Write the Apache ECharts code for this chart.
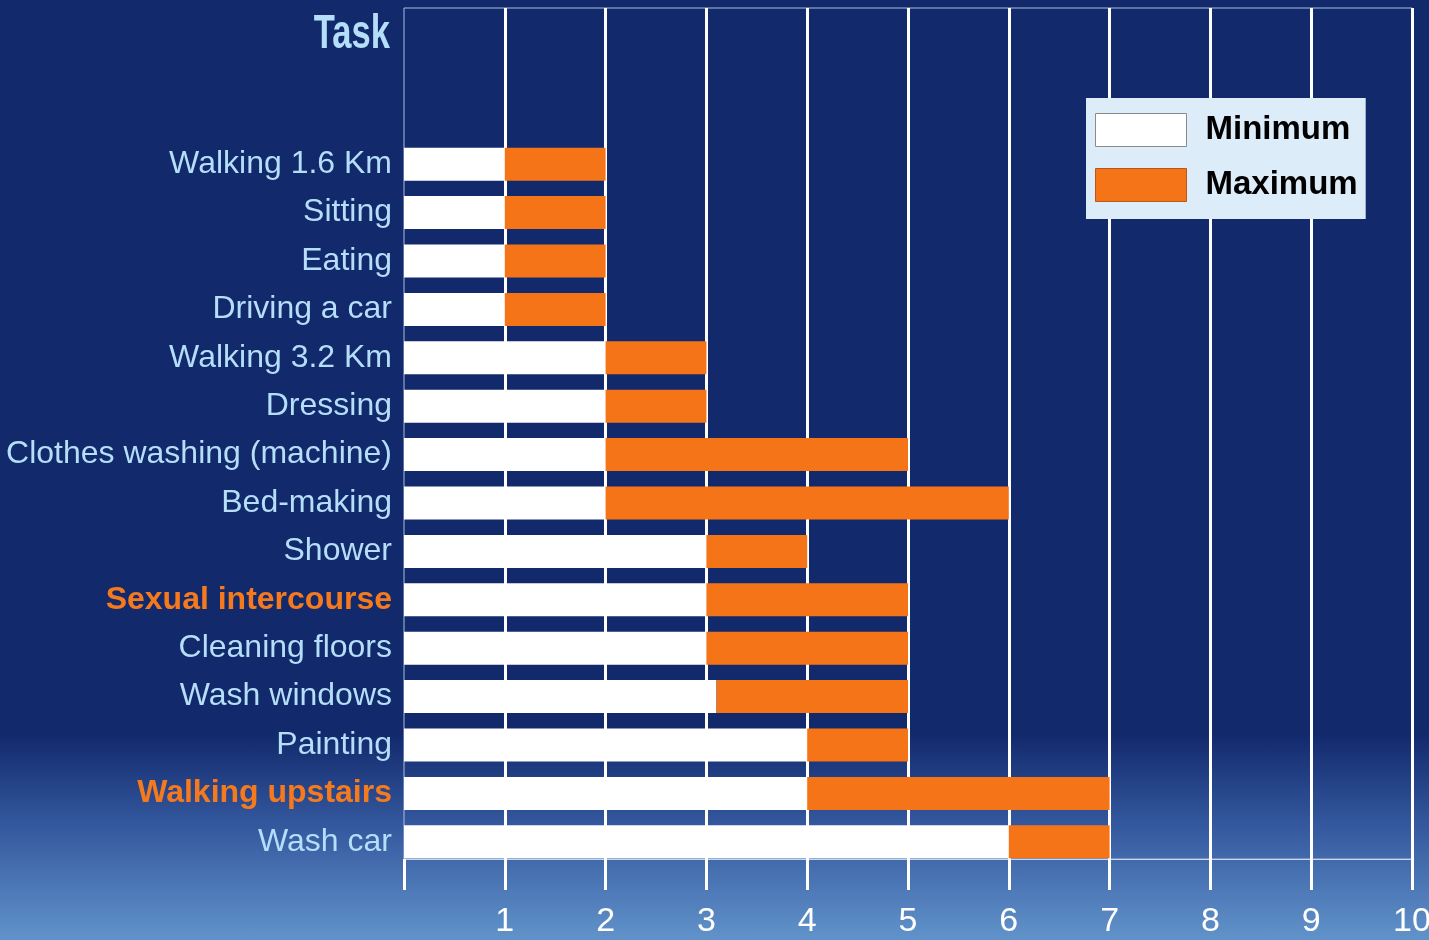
<!DOCTYPE html>
<html>
<head>
<meta charset="utf-8">
<title>Task</title>
<script src="https://cdn.jsdelivr.net/npm/echarts@6/dist/echarts.min.js"></script>
<style>
  html, body {
    margin: 0;
    padding: 0;
    width: 1429px;
    height: 940px;
    background: linear-gradient(to bottom, #12296c 0%, #12296c 78%, #35599f 88%, #6193ca 100%);
  }
  #chart {
    width: 1429px;
    height: 940px;
  }
</style>
</head>
<body>
<div id="chart"></div>
<script>
// 数据
var tasks = ['Walking 1.6 Km', 'Sitting', 'Eating', 'Driving a car', 'Walking 3.2 Km', 'Dressing',
  'Clothes washing (machine)', 'Bed-making', 'Shower', 'Sexual intercourse', 'Cleaning floors',
  'Wash windows', 'Painting', 'Walking upstairs', 'Wash car']
var minValues = [1, 1, 1, 1, 2, 2, 2, 2, 3, 3, 3, 3.1, 4, 4, 6]
var maxValues = [2, 2, 2, 2, 3, 3, 5, 6, 4, 5, 5, 5, 5, 7, 7]
var highlighted = ['Sexual intercourse', 'Walking upstairs']
var xTicks = [0, 1, 2, 3, 4, 5, 6, 7, 8, 9, 10]

var font = '"Liberation Sans", Arial, sans-serif'

var chart = echarts.init(document.getElementById('chart'))

var option = {
  backgroundColor: 'transparent',
  graphic: [
    {
      // 标题 "Task"
      type: 'text',
      x: 390,
      y: 11,
      scaleX: 0.72,
      style: {
        text: 'Task',
        fill: '#b5def9',
        font: 'bold 48px ' + font,
        align: 'right',
        verticalAlign: 'top'
      }
    }
  ],
  legend: {
    orient: 'vertical',
    left: 1086,
    top: 98,
    backgroundColor: '#dcecf9',
    padding: [15, 8, 17, 9],
    itemGap: 21,
    itemWidth: 91,
    itemHeight: 33,
    icon: 'rect',
    textStyle: { color: '#000', fontSize: 33, lineHeight: 33, fontWeight: 'bold', fontFamily: font, padding: [0, 0, 0, 14] },
    data: [
      { name: 'Minimum', itemStyle: { borderColor: '#8a8a8a', borderWidth: 1 } },
      { name: 'Maximum', itemStyle: { borderColor: '#b9561a', borderWidth: 1 } }
    ]
  },
  grid: [
    // 柱子
    { left: 404, right: 17, top: 140, bottom: 74, outerBoundsMode: 'none', containLabel: false },
    // 网格线
    {
      left: 404, right: 17, top: 8, bottom: 81, outerBoundsMode: 'none', containLabel: false,
      show: true, borderColor: '#a9bfe2', borderWidth: 1, backgroundColor: 'transparent'
    }
  ],
  xAxis: [
    { gridIndex: 0, type: 'value', min: 0, max: 10, show: false },
    {
      gridIndex: 1,
      type: 'value',
      min: xTicks[0],
      max: xTicks[xTicks.length - 1],
      interval: 1,
      axisLine: { show: true, lineStyle: { color: '#c9d8ef', width: 1 } },
      axisTick: { show: true, length: 31, lineStyle: { color: '#fff', width: 3 } },
      axisLabel: {
        color: '#fff',
        fontSize: 34,
        fontFamily: font,
        margin: 46,
        formatter: function (v) { return v === 0 ? '' : v }
      },
      splitLine: {
        show: true,
        lineStyle: {
          width: 3,
          color: ['rgba(0,0,0,0)', '#fff', '#fff', '#fff', '#fff', '#fff', '#fff', '#fff', '#fff', '#fff', '#fff']
        }
      }
    }
  ],
  yAxis: [
    {
      gridIndex: 0,
      type: 'category',
      inverse: true,
      data: tasks,
      axisLine: { show: false },
      axisTick: { show: false },
      axisLabel: {
        interval: 0,
        margin: 12,
        fontFamily: font,
        fontSize: 32,
        color: '#b5def9',
        formatter: function (v) {
          return highlighted.indexOf(v) >= 0 ? '{hi|' + v + '}' : v
        },
        rich: {
          hi: { color: '#f57a1e', fontWeight: 'bold', fontSize: 32, fontFamily: font }
        }
      }
    },
    { gridIndex: 1, type: 'value', min: 0, max: 1, show: false }
  ],
  series: [
    {
      name: 'Minimum',
      type: 'bar',
      stack: 'task',
      xAxisIndex: 0,
      yAxisIndex: 0,
      barWidth: 33,
      itemStyle: { color: '#ffffff' },
      data: minValues
    },
    {
      name: 'Maximum',
      type: 'bar',
      stack: 'task',
      xAxisIndex: 0,
      yAxisIndex: 0,
      barWidth: 33,
      itemStyle: { color: '#f57418' },
      data: maxValues.map(function (m, i) { return m - minValues[i] })
    }
  ]
}

chart.setOption(option)
</script>
</body>
</html>
